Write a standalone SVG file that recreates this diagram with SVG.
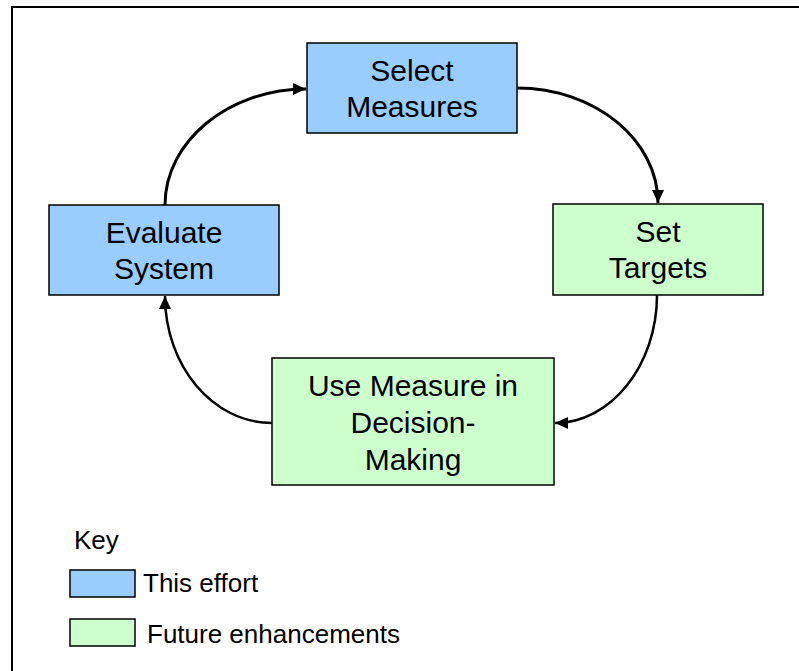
<svg xmlns="http://www.w3.org/2000/svg" width="799" height="671" viewBox="0 0 799 671">
<defs>
<style>
.blue{fill:#99CCFF;stroke:#000;stroke-width:1.5}
.green{fill:#CCFFCC;stroke:#000;stroke-width:1.5}
.lbl{font-family:"Liberation Sans",Arial,sans-serif;font-size:30px;fill:#000;text-anchor:middle}
.key{font-family:"Liberation Sans",Arial,sans-serif;font-size:26px;fill:#000}
.conn{fill:none;stroke:#000}
</style>
<marker id="ah" markerUnits="userSpaceOnUse" markerWidth="14" markerHeight="14" viewBox="0 0 14 14" refX="13" refY="7" orient="auto">
<path d="M0,1 L13,7 L0,13 Z" fill="#000"/>
</marker>
</defs>
<rect x="12" y="7" width="800" height="700" fill="#fff" stroke="#000" stroke-width="2"/>
<g id="connectors">
<path class="conn" stroke-width="3" d="M165,205 C165,141 229,89 306,89" marker-end="url(#ah)"/>
<path class="conn" stroke-width="3" d="M517,88 C595,88 658,140 658,203" marker-end="url(#ah)"/>
<path class="conn" stroke-width="2.5" d="M657,295 C657,365 611,423 555,423" marker-end="url(#ah)"/>
<path class="conn" stroke-width="2.5" d="M272,423 C213,423 165,366 165,296" marker-end="url(#ah)"/>
</g>
<g id="select-measures">
<rect class="blue" x="307" y="43" width="210" height="90"/>
<text class="lbl" x="412" y="81">Select</text>
<text class="lbl" x="412" y="117">Measures</text>
</g>
<g id="set-targets">
<rect class="green" x="553" y="204" width="210" height="91"/>
<text class="lbl" x="658" y="242">Set</text>
<text class="lbl" x="658" y="278">Targets</text>
</g>
<g id="use-measure">
<rect class="green" x="272" y="358" width="282" height="127"/>
<text class="lbl" x="413" y="396">Use Measure in</text>
<text class="lbl" x="413" y="433">Decision-</text>
<text class="lbl" x="413" y="470">Making</text>
</g>
<g id="evaluate-system">
<rect class="blue" x="49" y="205" width="230" height="90"/>
<text class="lbl" x="164" y="243">Evaluate</text>
<text class="lbl" x="164" y="279">System</text>
</g>
<g id="key">
<text class="key" x="74" y="549">Key</text>
<rect class="blue" x="70" y="570" width="65" height="27"/>
<text class="key" x="143" y="592">This effort</text>
<rect class="green" x="70" y="619" width="65" height="27"/>
<text class="key" x="147" y="643">Future enhancements</text>
</g>
</svg>
